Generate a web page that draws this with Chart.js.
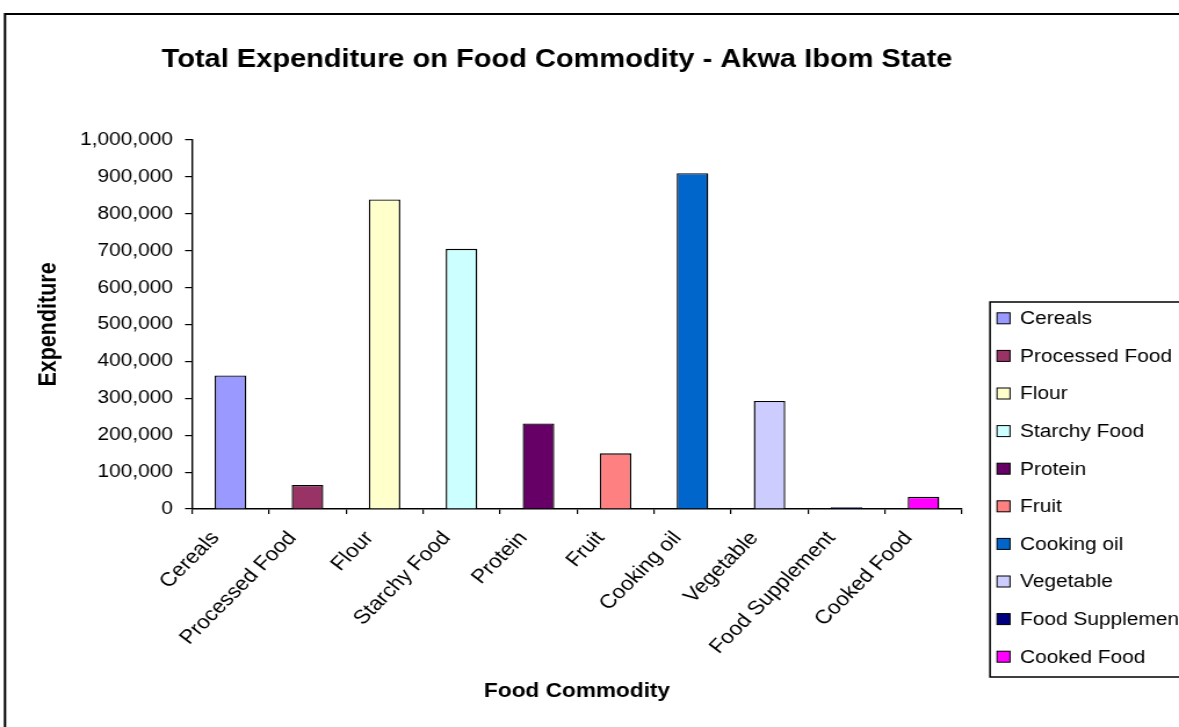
<!DOCTYPE html>
<html>
<head>
<meta charset="utf-8">
<script src="https://cdn.jsdelivr.net/npm/chart.js@4.4.1/dist/chart.umd.min.js"></script>
<style>
  html, body { margin: 0; padding: 0; background: #fff; overflow: hidden; }
  #chart { display: block; }
</style>
</head>
<body>
<canvas id="chart" width="1016" height="727" style="width:1179px;height:727px"></canvas>
<script>
// ---- data ----
const commodities = ['Cereals', 'Processed Food', 'Flour', 'Starchy Food', 'Protein',
                     'Fruit', 'Cooking oil', 'Vegetable', 'Food Supplement', 'Cooked Food'];
const expenditure = [362000, 65000, 839000, 705000, 232000, 151000, 910000, 293000, 5000, 33000];
const barColours  = ['#9999FF', '#993366', '#FFFFCC', '#CCFFFF', '#660066',
                     '#FF8080', '#0066CC', '#CCCCFF', '#000080', '#FF00FF'];
const expenditureTicks = [0, 100000, 200000, 300000, 400000, 500000,
                          600000, 700000, 800000, 900000, 1000000];
const chartTitle = 'Total Expenditure on Food Commodity - Akwa Ibom State';
const xAxisTitle = 'Food Commodity';
const yAxisTitle = 'Expenditure';

// The canvas is drawn narrower and widened by CSS; SX converts screen x to canvas x.
const SX = 1179 / 1016;
const cx = v => v / SX;

Chart.defaults.font.family = "'Liberation Sans', Arial, Helvetica, sans-serif";
Chart.defaults.color = '#000';

// white background and the outer frame of the chart object
const framePlugin = {
  id: 'frame',
  beforeDraw(chart) {
    const ctx = chart.ctx;
    ctx.save();
    ctx.fillStyle = '#fff';
    ctx.fillRect(0, 0, chart.width, chart.height);
    ctx.strokeStyle = '#000';
    ctx.lineWidth = 2;
    ctx.strokeRect(cx(5), 14, 2000, 2000);
    ctx.restore();
  }
};

// heading above the plot
const headingPlugin = {
  id: 'heading',
  afterDraw(chart) {
    const ctx = chart.ctx;
    ctx.save();
    ctx.fillStyle = '#000';
    ctx.font = "bold 25px 'Liberation Sans', Arial, sans-serif";
    ctx.textAlign = 'center';
    ctx.textBaseline = 'alphabetic';
    ctx.fillText(chartTitle, cx(557), 66.5);
    ctx.restore();
  }
};

// boxed key listing each commodity with its bar colour
const keyPlugin = {
  id: 'keyBox',
  afterDraw(chart) {
    const ctx = chart.ctx;
    const ds = chart.data.datasets[0];
    const top = 302, bottom = 677, left = cx(990);
    const firstRow = 318.3, rowGap = 37.6;
    ctx.save();
    ctx.fillStyle = '#fff';
    ctx.fillRect(left, top, 400, bottom - top);
    ctx.strokeStyle = '#000';
    ctx.lineWidth = 1.5;
    ctx.strokeRect(left, top, 400, bottom - top);
    ctx.font = "18px 'Liberation Sans', Arial, sans-serif";
    ctx.textAlign = 'left';
    ctx.textBaseline = 'middle';
    chart.data.labels.forEach((label, i) => {
      const y = firstRow + i * rowGap;
      ctx.fillStyle = ds.backgroundColor[i];
      ctx.fillRect(cx(997), y - 5.5, cx(1010) - cx(997), 11);
      ctx.lineWidth = 1;
      ctx.strokeStyle = '#000';
      ctx.strokeRect(cx(997), y - 5.5, cx(1010) - cx(997), 11);
      ctx.fillStyle = '#000';
      ctx.fillText(label, cx(1020), y + 1);
    });
    ctx.restore();
  }
};

new Chart(document.getElementById('chart'), {
  type: 'bar',
  data: {
    labels: commodities,
    datasets: [{
      data: expenditure,
      backgroundColor: barColours,
      borderColor: '#000',
      borderWidth: 1.4,
      barPercentage: 0.41,
      categoryPercentage: 1
    }]
  },
  options: {
    responsive: false,
    animation: false,
    devicePixelRatio: 1,
    layout: { padding: { left: 0, top: 140, right: 1016 - cx(962), bottom: 0 } },
    plugins: {
      legend: { display: false },
      title: { display: false },
      tooltip: { enabled: false }
    },
    scales: {
      x: {
        grid: { offset: true, drawOnChartArea: false, tickLength: 5, color: '#000', lineWidth: 1.2 },
        border: { color: '#000', width: 1.4 },
        ticks: { color: '#000', font: { size: 19.5 }, minRotation: 49, maxRotation: 49,
                 autoSkip: false, padding: 13, labelOffset: -13 },
        title: { display: true, text: xAxisTitle, color: '#000',
                 font: { size: 19.5, weight: 'bold' }, padding: { top: 0, bottom: 23.3 } },
        afterFit(scale) { scale.height = 218; }
      },
      y: {
        min: 0,
        max: 1000000,
        afterBuildTicks(scale) { scale.ticks = expenditureTicks.map(v => ({ value: v })); },
        grid: { drawOnChartArea: false, tickLength: 6, color: '#000', lineWidth: 1.2 },
        border: { color: '#000', width: 1.4 },
        ticks: { color: '#000', font: { size: 18 }, padding: 10.4,
                 callback: v => Number(v).toLocaleString('en-US') },
        title: { display: true, text: yAxisTitle, color: '#000',
                 font: { size: 21.5, weight: 'bold' }, padding: { top: 29, bottom: 0 } },
        afterFit(scale) { scale.width = cx(192); }
      }
    }
  },
  plugins: [framePlugin, headingPlugin, keyPlugin]
});
</script>
</body>
</html>
